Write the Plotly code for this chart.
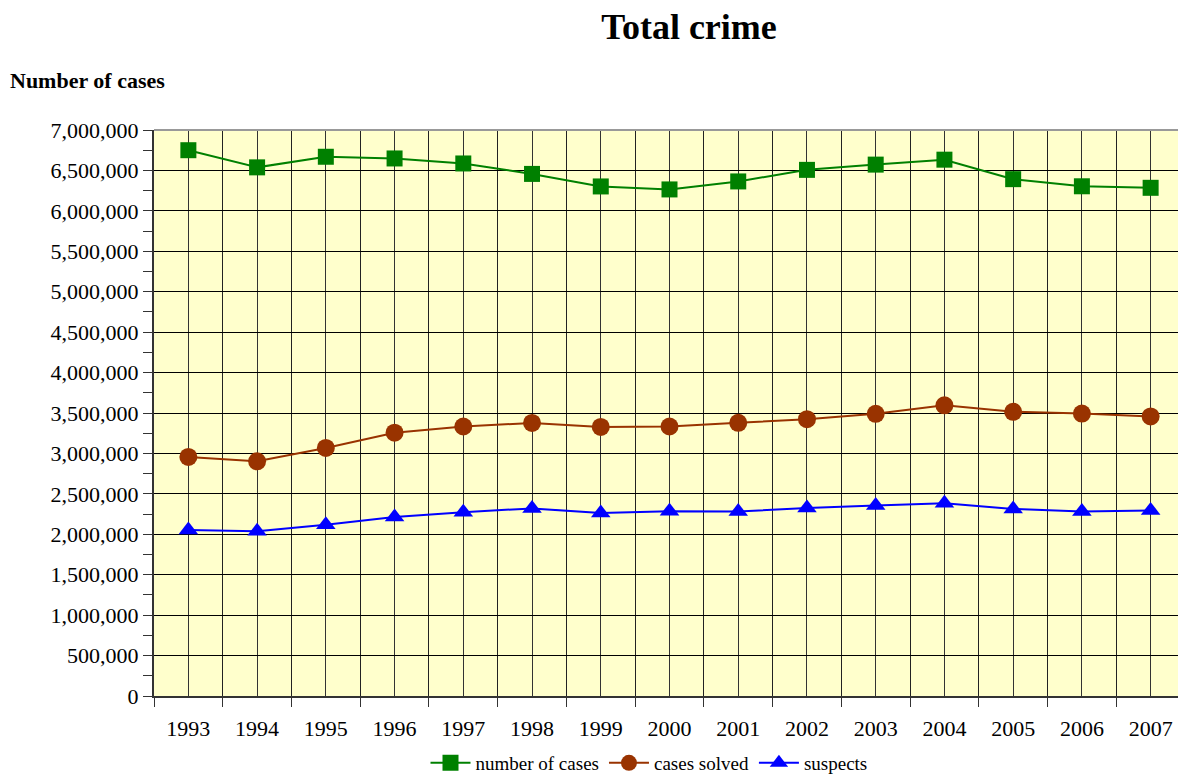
import plotly.graph_objects as go

years = ["1993", "1994", "1995", "1996", "1997", "1998", "1999", "2000",
         "2001", "2002", "2003", "2004", "2005", "2006", "2007"]
number_of_cases = [6750000, 6538000, 6669000, 6648000, 6586000, 6457000, 6302000, 6265000,
                   6364000, 6507000, 6572000, 6633000, 6392000, 6304000, 6285000]
cases_solved = [2957000, 2903000, 3068000, 3257000, 3333000, 3377000, 3328000, 3333000,
                3379000, 3423000, 3490000, 3595000, 3515000, 3493000, 3457000]
suspects = [2052000, 2038000, 2118000, 2213000, 2274000, 2320000, 2263000, 2286000,
            2281000, 2326000, 2355000, 2384000, 2313000, 2283000, 2295000]
y_ticks = list(range(0, 7000001, 500000))

idx = list(range(len(years)))
serif = "Liberation Serif, Times New Roman, serif"

# page body has an 8px margin, so figure is offset by 8px
W, H = 1178, 770
L, T = 146, 122
PW = 1031
PH = 566

fig = go.Figure()
fig.add_trace(go.Scatter(x=idx, y=number_of_cases, name="number of cases", mode="lines+markers",
                         line=dict(color="#008000", width=2),
                         marker=dict(symbol="square", size=16, color="#008000")))
fig.add_trace(go.Scatter(x=idx, y=cases_solved, name="cases solved", mode="lines+markers",
                         line=dict(color="#993300", width=2),
                         marker=dict(symbol="circle", size=18, color="#993300")))
fig.add_trace(go.Scatter(x=idx, y=suspects, name="suspects", mode="lines+markers",
                         line=dict(color="#0000FF", width=2),
                         marker=dict(symbol="triangle-up", size=17, color="#0000FF")))

fig.update_layout(
    width=W, height=H,
    margin=dict(l=L, r=W - L - PW, t=T, b=H - T - PH, pad=0),
    paper_bgcolor="white", plot_bgcolor="#FFFFCC",
    font=dict(family=serif, color="black", size=22),
    title=dict(text="<b>Total crime</b>", x=(681 / W), xanchor="center", y=1 - 18 / H, yanchor="middle",
               font=dict(family=serif, size=36, color="black")),
    showlegend=True,
    legend=dict(orientation="h", x=(641 - L) / PW, xanchor="center",
                yref="container", y=(H - 755) / H, yanchor="middle",
                font=dict(family=serif, size=19), bgcolor="rgba(0,0,0,0)",
                itemwidth=40, tracegroupgap=0),
    xaxis=dict(range=[-0.5, len(years) - 0.5], tickvals=idx, ticktext=years,
               ticks="", showgrid=True, gridcolor="#333333", gridwidth=1,
               showline=True, linecolor="#333333", linewidth=2, zeroline=False,
               ticklabelstandoff=12, automargin=False,
               tickfont=dict(family=serif, size=22),
               minor=dict(tick0=-0.5, dtick=1, ticks="outside", ticklen=9, tickcolor="#333333",
                          showgrid=True, gridcolor="#222222", gridwidth=1)),
    yaxis=dict(range=[0, 7000000], tickvals=y_ticks, tickformat=",",
               ticks="outside", ticklen=9, tickcolor="#333333",
               showgrid=True, gridcolor="black", gridwidth=1,
               showline=True, linecolor="#333333", linewidth=2, zeroline=False,
               automargin=False,
               tickfont=dict(family=serif, size=22),
               minor=dict(dtick=250000, ticks="outside", ticklen=9, tickcolor="#333333", showgrid=False)),
    annotations=[dict(text="<b>Number of cases</b>", xref="paper", yref="paper",
                      x=-L / PW, xanchor="left", y=(T + PH - 72) / PH, yanchor="middle",
                      showarrow=False, font=dict(family=serif, size=22, color="black"))],
    shapes=[dict(type="line", xref="paper", yref="paper", x0=0, x1=1, y0=1, y1=1,
                 line=dict(color="#999999", width=2)),
            dict(type="line", xref="paper", yref="paper", x0=1, x1=1, y0=0, y1=1,
                 line=dict(color="#999999", width=2))],
)

fig.write_html("out.html")
